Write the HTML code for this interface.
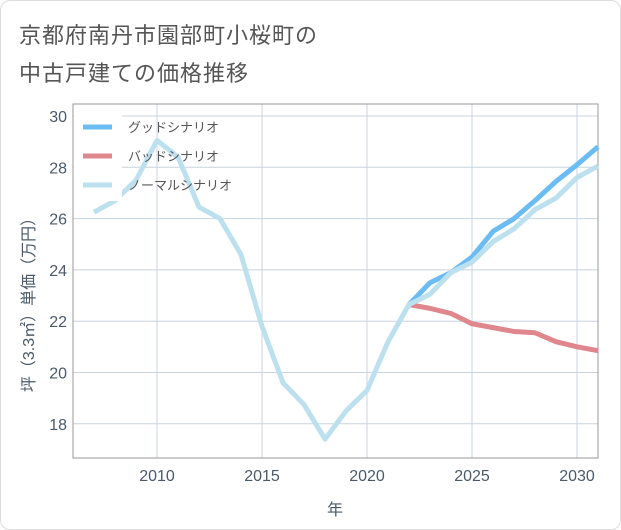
<!DOCTYPE html>
<html><head><meta charset="utf-8"><style>
body{margin:0;background:#fff;}
#card{position:absolute;left:0;top:0;width:619px;height:528px;border:1px solid #ddd;border-radius:10px;background:#fff;overflow:hidden;}
.t{position:absolute;left:18px;font:22px "Liberation Sans","Noto Sans CJK JP",sans-serif;color:#555;letter-spacing:1px;}
svg text{font-family:"Liberation Sans","Noto Sans CJK JP",sans-serif;}
</style></head><body>
<div id="card">
<div class="t" style="top:17px">京都府南丹市園部町小桜町の</div>
<div class="t" style="top:55px">中古戸建ての価格推移</div>
<svg id="chart" width="621" height="530" style="position:absolute;left:0;top:0"></svg>
</div>
<script>
const years=[2007,2008,2009,2010,2011,2012,2013,2014,2015,2016,2017,2018,2019,2020,2021,2022,2023,2024,2025,2026,2027,2028,2029,2030,2031];
const normalValues=[26.25,26.7,27.5,29.05,28.4,26.45,26.0,24.6,21.8,19.6,18.75,17.4,18.5,19.3,21.2,22.65,23.05,23.9,24.3,25.1,25.6,26.35,26.8,27.6,28.05];
const goodYears=[2022,2023,2024,2025,2026,2027,2028,2029,2030,2031];
const goodValues=[22.65,23.5,23.9,24.5,25.5,26.0,26.7,27.45,28.1,28.8];
const badValues=[22.65,22.5,22.3,21.9,21.75,21.6,21.55,21.2,21.0,20.85];
const xTicks=[2010,2015,2020,2025,2030];
const yTicks=[18,20,22,24,26,28,30];
const seriesNames=['グッドシナリオ','バッドシナリオ','ノーマルシナリオ'];
const NS='http://www.w3.org/2000/svg';
const svg=document.getElementById('chart');
const L=72,R=597,T=103,B=457;
const x=v=>156+(v-2010)*21;
const y=v=>115+(30-v)*25.65;
function mk(tag,attrs){const e=document.createElementNS(NS,tag);for(const k in attrs)e.setAttribute(k,attrs[k]);svg.appendChild(e);return e;}
xTicks.forEach(t=>{
 const g=mk('line',{x1:x(t),x2:x(t),y1:T,y2:B,stroke:'#c8d4e0','stroke-width':1});
 
 
 const l=mk('text',{x:x(t),y:480,'text-anchor':'middle','font-size':16,fill:'#4a5a6a'});l.textContent=t;
 
 
});
yTicks.forEach(t=>{
 const g=mk('line',{x1:L,x2:R,y1:y(t),y2:y(t),stroke:'#c8d4e0','stroke-width':1});
 
 
 const l=mk('text',{x:66,y:y(t)+6,'text-anchor':'end','font-size':16,fill:'#4a5a6a'});l.textContent=t;
 
 
});
const ax=mk('rect',{x:L,y:T,width:R-L,height:B-T,fill:'none',stroke:'#999','stroke-width':1});


function line(xs,vs,color,name){
 const p=mk('polyline',{points:xs.map((v,i)=>x(v)+','+y(vs[i])).join(' '),fill:'none',stroke:color,'stroke-width':5,'stroke-linejoin':'round'});
 
 
}
line(goodYears,badValues,'#e0868d','bad-scenario-line');
line(goodYears,goodValues,'#6bbcf2','good-scenario-line');
line(years,normalValues,'#bde0ef','normal-scenario-line');
const lb=mk('rect',{x:73,y:104,width:48,height:96,fill:'#fff'});


const colors=['#6bbcf2','#e0868d','#bde0ef'];
seriesNames.forEach((n,i)=>{
 const yy=126+i*29;
 const s=mk('line',{x1:82,x2:111,y1:yy,y2:yy,stroke:colors[i],'stroke-width':5});
 
 
 const t=mk('text',{x:127,y:yy+5,'font-size':13,fill:'#555'});t.textContent=n;
 
 
});
const xt=mk('text',{x:334,y:514,'text-anchor':'middle','font-size':16,fill:'#4a5a6a'});xt.textContent='年';


const yt=mk('text',{x:0,y:0,'text-anchor':'middle','font-size':16,fill:'#4a5a6a',transform:'translate(33,300) rotate(-90)'});yt.textContent='坪（3.3㎡）単価（万円）';


</script>
</body></html>
